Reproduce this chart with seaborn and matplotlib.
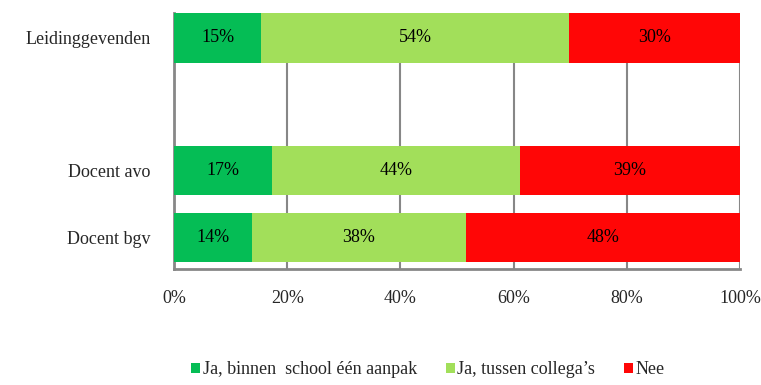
import numpy as np
import pandas as pd
import matplotlib
matplotlib.use("Agg")
import matplotlib.pyplot as plt
import seaborn as sns
from matplotlib.patches import Patch

# Survey groups (the blank entry keeps an empty row between the groups)
groups = ["Leidinggevenden", "Docent avo", "Docent bgv"]
row_order = ["Leidinggevenden", " ", "Docent avo", "Docent bgv"]

series_names = ["Ja, binnen  school één aanpak", "Ja, tussen collega’s", "Nee"]
ja_school = [15.4, 17.4, 13.7]
ja_collegas = [54.4, 43.7, 37.9]
nee = [30.2, 38.9, 48.4]

colors = ["#05BD55", "#A2DF5A", "#FF0606"]
tick_labels = ["0%", "20%", "40%", "60%", "80%", "100%"]

sns.set_theme(style="white")
plt.rcParams["font.family"] = ["Liberation Serif", "DejaVu Serif"]
FS = 13

fig = plt.figure(figsize=(7.61, 3.85), dpi=100)
ax = fig.add_axes([174 / 761, (385 - 269) / 385, (740 - 174) / 761, (269 - 13) / 385])

df = pd.DataFrame({
    "group": groups,
    "s1": ja_school,
    "s2": ja_collegas,
    "s3": nee,
})
df["c1"] = df["s1"]
df["c2"] = df["s1"] + df["s2"]
df["c3"] = df["s1"] + df["s2"] + df["s3"]

# stacked bars: draw cumulative totals back to front
for col, color in zip(["c3", "c2", "c1"], colors[::-1]):
    sns.barplot(data=df, x=col, y="group", order=row_order, orient="h",
                color=color, width=0.74, saturation=1, ax=ax, zorder=3,
                linewidth=0)

# value labels centred in each segment
pos = {g: row_order.index(g) for g in groups}
for _, r in df.iterrows():
    y = pos[r["group"]]
    starts = [0, r["c1"], r["c2"]]
    for start, val in zip(starts, [r["s1"], r["s2"], r["s3"]]):
        ax.text(start + val / 2, y, f"{round(val):d}%", ha="center", va="center",
                fontsize=FS, color="black", zorder=5)

ax.set_xlim(0, 100)
ylim_bottom, ylim_top = 3.48, -0.376
ax.set_ylim(ylim_bottom, ylim_top)
ax.set_xticks([0, 20, 40, 60, 80, 100])
ax.set_xticklabels(tick_labels, fontsize=FS)
ax.set_yticks(range(len(row_order)))
ax.set_yticklabels(row_order, fontsize=FS)
ax.set_xlabel("")
ax.set_ylabel("")

ax.set_yticks([ylim_top, 0.5, 1.5, 2.5, ylim_bottom], minor=True)
ax.tick_params(axis="y", which="major", length=0, pad=17)
ax.tick_params(axis="y", which="minor", length=3.5, width=1.5, color="#878787", direction="out")
ax.tick_params(axis="x", which="major", length=4.3, width=1.5, color="#878787",
               direction="out", pad=10.5)

# vertical gridlines behind bars
ax.xaxis.grid(True, color="#878787", linewidth=1.5, zorder=0)
ax.yaxis.grid(False)
ax.set_axisbelow(True)

for side in ["top", "right"]:
    ax.spines[side].set_visible(False)
for side in ["left", "bottom"]:
    ax.spines[side].set_color("#878787")
    ax.spines[side].set_linewidth(2)

handles = [Patch(facecolor=c, edgecolor="none") for c in colors]
fig.legend(handles, series_names, loc="center", bbox_to_anchor=(428 / 761, 1 - 370 / 385),
           ncol=3, frameon=False, fontsize=FS, handlelength=0.5, handleheight=0.5,
           handletextpad=0.15, columnspacing=1.6)

fig.savefig("out.png", dpi=100)
